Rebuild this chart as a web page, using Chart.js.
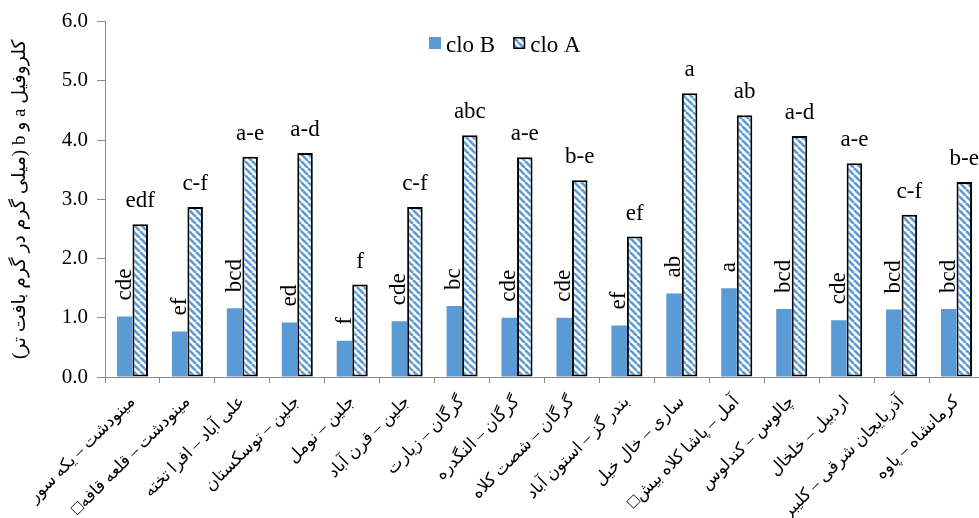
<!DOCTYPE html>
<html>
<head>
<meta charset="utf-8">
<script src="https://cdn.jsdelivr.net/npm/chart.js@4/dist/chart.umd.min.js"></script>
<style>
  html, body { margin: 0; padding: 0; background: #fff; overflow: hidden; }
  #wrap { position: relative; width: 990px; height: 518px; }
</style>
</head>
<body>
<div id="wrap"><canvas id="c" width="990" height="518"></canvas></div>
<script>
// Sampling sites (province – locality)
const sites = [
  'مینودشت – یکه سور',
  'مینودشت – قلعه قافه□',
  'علی آباد – افرا تخته',
  'جلین – توسکستان',
  'جلین – نومل',
  'جلین – قرن آباد',
  'گرگان – زیارت',
  'گرگان – النگدره',
  'گرگان – شصت کلاه',
  'بندر گز – استون آباد',
  'ساری – خال خیل',
  'آمل – پاشا کلاه بیش□',
  'چالوس – کندلوس',
  'اردبیل – خلخال',
  'آذربایجان شرقی – کلیبر',
  'کرمانشاه – پاوه'
];

// Chlorophyll b and a (mg per g fresh tissue)
const cloB = [1.02, 0.77, 1.16, 0.92, 0.61, 0.94, 1.20, 1.00, 1.00, 0.87, 1.41, 1.50, 1.15, 0.96, 1.14, 1.15];
const cloA = [2.58, 2.87, 3.72, 3.78, 1.56, 2.87, 4.08, 3.71, 3.32, 2.37, 4.79, 4.42, 4.07, 3.61, 2.74, 3.29];

// Mean-comparison letter groups
const lettersB = ['cde', 'ef', 'bcd', 'ed', 'f', 'cde', 'bc', 'cde', 'cde', 'ef', 'ab', 'a', 'bcd', 'cde', 'bcd', 'bcd'];
const lettersA = ['edf', 'c-f', 'a-e', 'a-d', 'f', 'c-f', 'abc', 'a-e', 'b-e', 'ef', 'a', 'ab', 'a-d', 'a-e', 'c-f', 'b-e'];

const seriesNames = ['clo B', 'clo A'];
const yTitle = 'کلروفیل a و b (میلی گرم در گرم بافت تر)';

const RLE = '\u202B', PDF = '\u202C';
const LATIN = '"Liberation Serif", "Times New Roman"';
const MIXED = '"Liberation Serif", "Times New Roman", "DejaVu Sans"';
const BLUE = '#5B9BD5';
const AXIS = '#898989';

Chart.defaults.font.family = LATIN;

// Diagonal blue stripes on white
function stripes(color) {
  const s = 7;
  const c = document.createElement('canvas');
  c.width = s; c.height = s;
  const g = c.getContext('2d');
  g.fillStyle = '#fff';
  g.fillRect(0, 0, s, s);
  g.strokeStyle = color;
  g.lineWidth = 2.6;
  for (const o of [-s, 0, s]) {
    g.beginPath();
    g.moveTo(o, 0);
    g.lineTo(o + s, s);
    g.stroke();
  }
  return g.createPattern(c, 'repeat');
}

// Letters above every bar: rotated for clo B, upright for clo A
const letterPlugin = {
  id: 'letters',
  afterDatasetsDraw(chart) {
    const ctx = chart.ctx;
    chart.data.datasets.forEach((ds, i) => {
      const meta = chart.getDatasetMeta(i);
      meta.data.forEach((bar, j) => {
        const t = ds.letters[j];
        ctx.save();
        ctx.fillStyle = '#000';
        ctx.font = '23px ' + LATIN;
        if (i === 0) {
          ctx.translate(bar.x, bar.y - 16);
          ctx.rotate(-Math.PI / 2);
          ctx.textAlign = 'left';
          ctx.textBaseline = 'middle';
          ctx.fillText(t, 0, 0);
        } else {
          ctx.textAlign = 'center';
          ctx.textBaseline = 'alphabetic';
          ctx.fillText(t, bar.x, bar.y - 17);
        }
        ctx.restore();
      });
    });
  }
};

// Series key inside the plot
const keyPlugin = {
  id: 'key',
  afterDraw(chart) {
    const ctx = chart.ctx;
    ctx.save();
    ctx.font = '23px ' + LATIN;
    ctx.textBaseline = 'alphabetic';
    let x = 429;
    const top = 37, box = 12;
    chart.data.datasets.forEach((ds) => {
      ctx.fillStyle = ds.backgroundColor;
      ctx.fillRect(x, top, box, box);
      if (ds.borderWidth) {
        ctx.strokeStyle = '#000';
        ctx.lineWidth = 1.5;
        ctx.strokeRect(x + 0.75, top + 0.75, box - 1.5, box - 1.5);
      }
      ctx.fillStyle = '#000';
      ctx.textAlign = 'left';
      ctx.fillText(ds.label, x + box + 5, top + 14.5);
      x += box + 5 + ctx.measureText(ds.label).width + 18;
    });
    ctx.restore();
  }
};

function build() {
  const chart = new Chart(document.getElementById('c'), {
    type: 'bar',
    data: {
      labels: sites.map(s => RLE + s + PDF),
      datasets: [
        {
          label: seriesNames[0],
          data: cloB,
          letters: lettersB,
          backgroundColor: BLUE,
          borderWidth: 0
        },
        {
          label: seriesNames[1],
          data: cloA,
          letters: lettersA,
          backgroundColor: stripes(BLUE),
          borderColor: '#000',
          borderWidth: 2,
          borderSkipped: false
        }
      ]
    },
    options: {
      responsive: false,
      animation: false,
      devicePixelRatio: 1,
      layout: { padding: { top: 19, right: 6, left: 0, bottom: 0 } },
      datasets: { bar: { categoryPercentage: 0.565, barPercentage: 1 } },
      plugins: {
        legend: { display: false },
        tooltip: { enabled: false }
      },
      scales: {
        x: {
          grid: { drawOnChartArea: false, tickLength: 6, color: AXIS, offset: true },
          border: { color: AXIS, width: 1 },
          ticks: {
            autoSkip: false,
            maxRotation: 45,
            minRotation: 45,
            color: '#000',
            padding: 9,
            font: { size: 17, family: MIXED }
          },
          afterFit(s) { s.height = 141; }
        },
        y: {
          min: 0,
          max: 6,
          grid: { drawOnChartArea: false, tickLength: 8, color: AXIS },
          border: { color: AXIS, width: 1 },
          ticks: {
            stepSize: 1,
            color: '#000',
            padding: 9,
            font: { size: 21, family: LATIN },
            callback: v => Number(v).toFixed(1)
          },
          title: {
            display: true,
            text: RLE + yTitle + PDF,
            color: '#000',
            font: { size: 19, family: MIXED },
            padding: { top: 9, bottom: 0 }
          },
          afterFit(s) { s.width = 105; }
        }
      }
    },
    plugins: [letterPlugin, keyPlugin]
  });
  // repaint once every face has settled
  document.fonts.ready.then(() => chart.update('none'));
}

// Make sure the serif face is ready before the first paint
Promise.all([
  document.fonts.load('23px "Liberation Serif"', 'clo B 0.0'),
  document.fonts.load('21px "Times New Roman"', '0.0'),
  document.fonts.load('19px "DejaVu Sans"', 'کلروفیل')
]).then(build, build);
</script>
</body>
</html>
